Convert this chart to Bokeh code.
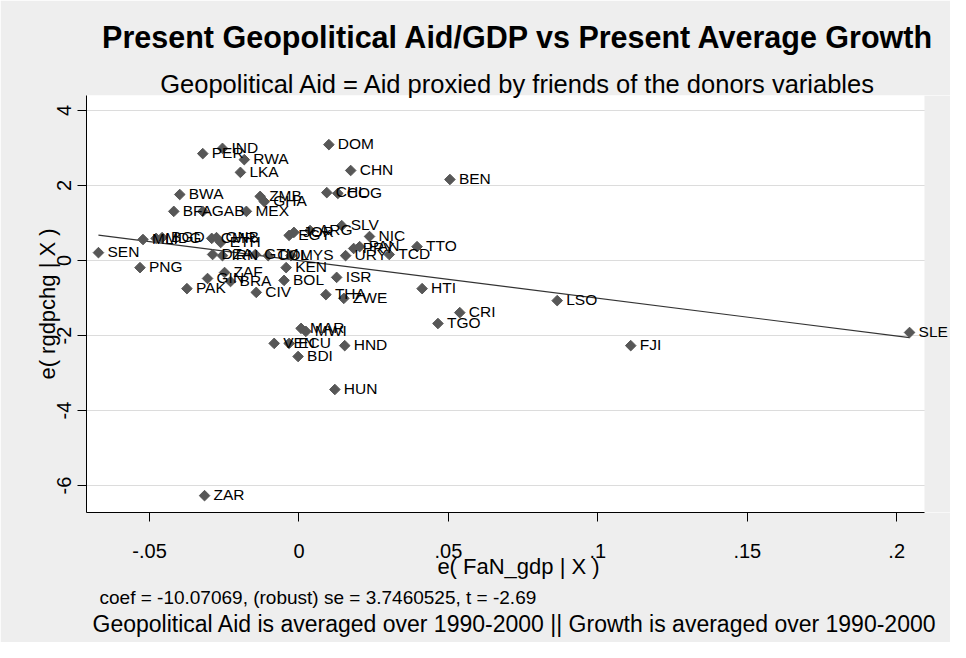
import numpy as np
from bokeh.plotting import figure
from bokeh.models import ColumnDataSource, Title, Range1d, FixedTicker, LabelSet, BoxAnnotation
from bokeh.core.properties import value
from bokeh.embed import file_html
from bokeh.resources import INLINE

# ---- data ----
countries = ["SEN", "PNG", "PAK", "MLI", "MDG", "BGD", "BWA", "BFA", "GAB", "MEX",
             "PER", "IND", "RWA", "LKA", "ZMB", "GHA", "CMR", "GNB", "ETH", "DZA",
             "IRN", "GTM", "COL", "MYS", "KEN", "GIN", "ZAF", "BRA", "CIV", "BOL",
             "EGY", "JOR", "ARG", "SLV", "NIC", "URY", "PRY", "PAN", "TCD", "TTO",
             "ISR", "THA", "ZWE", "HTI", "CRI", "TGO", "LSO", "FJI", "SLE", "DOM",
             "CHN", "CHL", "COG", "BEN", "MAR", "MWI", "VEN", "ECU", "HND", "BDI",
             "HUN", "ZAR"]
aid_resid = [-0.0671, -0.0532, -0.0375, -0.0522, -0.0478, -0.0458, -0.0399, -0.0419, -0.0322, -0.0176,
             -0.0322, -0.0256, -0.0183, -0.0196, -0.0130, -0.0116, -0.0292, -0.0276, -0.0262, -0.0289,
             -0.0256, -0.0146, -0.0103, -0.0027, -0.0043, -0.0306, -0.0249, -0.0229, -0.0143, -0.0050,
             -0.0033, -0.0017, 0.0037, 0.0143, 0.0236, 0.0156, 0.0183, 0.0203, 0.0302, 0.0395,
             0.0126, 0.0090, 0.0150, 0.0412, 0.0538, 0.0465, 0.0864, 0.1110, 0.2043, 0.0100,
             0.0173, 0.0093, 0.0130, 0.0505, 0.0007, 0.0023, -0.0083, -0.0033, 0.0153, -0.0003,
             0.0120, -0.0316]
growth_resid = [0.21, -0.19, -0.75, 0.56, 0.59, 0.61, 1.76, 1.31, 1.31, 1.31,
                2.85, 2.99, 2.69, 2.35, 1.71, 1.57, 0.59, 0.61, 0.48, 0.16,
                0.13, 0.16, 0.13, 0.13, -0.19, -0.48, -0.32, -0.56, -0.85, -0.53,
                0.67, 0.75, 0.80, 0.93, 0.64, 0.13, 0.32, 0.37, 0.16, 0.37,
                -0.45, -0.91, -1.01, -0.75, -1.39, -1.68, -1.07, -2.27, -1.92, 3.09,
                2.40, 1.81, 1.79, 2.16, -1.81, -1.89, -2.21, -2.21, -2.27, -2.56,
                -3.44, -6.27]
coef = -10.07069
x_ticks = [-0.05, 0.0, 0.05, 0.1, 0.15, 0.2]
x_tick_labels = ["-.05", "0", ".05", ".1", ".15", ".2"]
y_ticks = [-6, -4, -2, 0, 2, 4]
y_tick_labels = ["-6", "-4", "-2", "0", "2", "4"]

title_text = "Present Geopolitical Aid/GDP vs Present Average Growth"
subtitle_text = "Geopolitical Aid = Aid proxied by friends of the donors variables"
coef_text = "coef = -10.07069, (robust) se = 3.7460525, t = -2.69"
note_text = "Geopolitical Aid is averaged over 1990-2000 || Growth is averaged over 1990-2000"
x_label = "e( FaN_gdp | X )"
y_label = "e( rgdpchg | X )"

FONT = "Liberation Sans"
BG = "#eeeeee"

# plot region limits (the white area); frame extends a little further right in grey
X0, X1 = -0.0711, 0.2093
Y0, Y1 = -6.72, 4.4
FRAME_LEFT_PX, WHITE_W_PX, FIG_W = 86, 838, 950
x_end = X1 + (FIG_W - FRAME_LEFT_PX - WHITE_W_PX) * (X1 - X0) / WHITE_W_PX

p = figure(width=FIG_W, height=642, output_backend="svg", toolbar_location=None,
           title=None,
           x_range=Range1d(X0, x_end), y_range=Range1d(Y0, Y1),
           min_border_left=FRAME_LEFT_PX, min_border_right=0,
           min_border_top=95, min_border_bottom=130)
p.background_fill_color = "white"
p.border_fill_color = BG
p.outline_line_color = None

p.xgrid.grid_line_color = None
p.ygrid.grid_line_color = "#dcdcdc"
p.ygrid.grid_line_width = 1

# grey strip right of the plot region (so the SLE label can overflow like the original)
p.add_layout(BoxAnnotation(left=X1, fill_color=BG, fill_alpha=1.0, line_color=None,
                           level="underlay"))

# fit line
xs_fit = [min(aid_resid), max(aid_resid)]
ys_fit = [coef * v for v in xs_fit]
p.line(xs_fit, ys_fit, line_color="#333333", line_width=1.2)

src = ColumnDataSource(dict(x=aid_resid, y=growth_resid, name=countries))
p.scatter("x", "y", source=src, marker="square", angle=np.pi / 4, size=7.5,
          fill_color="#575757", line_color="#575757")
labels = LabelSet(x="x", y="y", text="name", source=src, x_offset=9, y_offset=1,
                  text_baseline="middle", text_align="left",
                  text_font=value(FONT), text_font_size=value("15.5px"),
                  text_color="black")
p.add_layout(labels)

# axes
p.xaxis.ticker = FixedTicker(ticks=x_ticks)
p.xaxis.major_label_overrides = {t: l for t, l in zip(x_ticks, x_tick_labels)}
p.xaxis.bounds = (X0, X1)
p.yaxis.ticker = FixedTicker(ticks=y_ticks)
p.yaxis.major_label_overrides = {t: l for t, l in zip(y_ticks, y_tick_labels)}
p.yaxis.major_label_orientation = "vertical"
for ax in (p.xaxis[0], p.yaxis[0]):
    ax.axis_line_color = "black"
    ax.major_tick_line_color = "black"
    ax.major_tick_out = 9
    ax.major_tick_in = 0
    ax.minor_tick_line_color = None
    ax.major_label_text_font = FONT
    ax.major_label_text_font_size = "20px"
    ax.major_label_text_color = "black"
    ax.axis_label_text_font = FONT
    ax.axis_label_text_font_size = "22px"
    ax.axis_label_text_font_style = "normal"
    ax.axis_label_text_color = "black"
p.xaxis.axis_label = x_label
p.yaxis.axis_label = y_label
p.xaxis.major_label_standoff = 22
p.xaxis.axis_label_standoff = -7
p.yaxis.major_label_standoff = 7
p.yaxis.axis_label_standoff = -6

# titles (above: first added is nearest to the frame)
p.add_layout(Title(text=subtitle_text, align="center", text_font=FONT, text_color="black",
                   text_font_size="25.5px", text_font_style="normal", standoff=-4), "above")
p.add_layout(Title(text=title_text, align="center", text_font=FONT, text_color="black",
                   text_font_size="30.5px", text_font_style="bold", standoff=31), "above")
# footnotes (below: first added is nearest to the frame/axis)
p.add_layout(Title(text=coef_text, align="left", offset=13, text_font=FONT, text_color="black",
                   text_font_size="19px", text_font_style="normal", standoff=6), "below")
p.add_layout(Title(text=note_text, align="left", offset=6, text_font=FONT, text_color="black",
                   text_font_size="23px", text_font_style="normal", standoff=-3), "below")

open("out.html", "w").write(file_html(p, INLINE))
